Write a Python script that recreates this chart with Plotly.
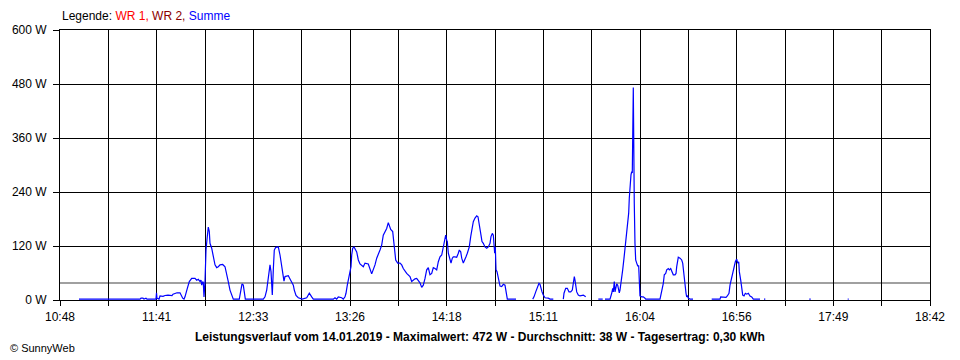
import pandas as pd
import plotly.graph_objects as go

DAY = "2019-01-14"
AXIS_START = "10:48"
AXIS_END = "18:42"
X_TICK_LABELS = ["10:48", "11:41", "12:33", "13:26", "14:18",
                 "15:11", "16:04", "16:56", "17:49", "18:42"]
Y_TICKS = [0, 120, 240, 360, 480, 600]
Y_TICK_LABELS = [f"{v} W" for v in Y_TICKS]
AVG_W = 38
TITLE = ("Leistungsverlauf vom 14.01.2019 - Maximalwert: 472 W - "
         "Durchschnitt: 38 W - Tagesertrag: 0,30 kWh")

# Summe (W) over time; None = no data (gap)
times = [
    "10:58:21", "11:31:35", "11:32:08", "11:33:13", "11:33:46", "11:34:51", "11:35:24", "11:40:18", "11:40:35", "11:40:51",
    "11:41:56", "11:42:29", "11:44:07", "11:45:13", "11:46:50", "11:47:56", "11:49:01", "11:49:34", "11:51:45", "11:53:23",
    "11:53:55", "11:54:51", "11:55:34", "11:56:06", "11:57:22", "11:58:27", "11:59:45", "12:01:33", "12:02:29", "12:03:21",
    "12:04:17", "12:04:49", "12:05:12", "12:05:45", "12:06:04", "12:06:27", "12:07:00", "12:07:33", "12:08:15", "12:08:48",
    "12:09:21", "12:09:43", "12:10:39", "12:11:31", "12:12:27", "12:13:22", "12:14:15", "12:15:10", "12:16:38", "12:17:54",
    "12:18:49", "12:19:41", "12:20:37", "12:22:05", "12:22:25", "12:25:41", "12:26:27", "12:27:10", "12:27:52", "12:28:25",
    "12:28:58", "12:38:46", "12:39:41", "12:40:37", "12:41:29", "12:42:25", "12:42:58", "12:43:20", "12:43:40", "12:44:13",
    "12:44:45", "12:45:31", "12:46:56", "12:47:52", "12:48:47", "12:49:20", "12:50:02", "12:50:35", "12:52:23", "12:53:41",
    "12:55:07", "12:55:39", "12:56:35", "12:57:50", "13:00:01", "13:02:25", "13:03:50", "13:05:08", "13:06:01", "13:16:54",
    "13:17:50", "13:18:45", "13:19:38", "13:21:29", "13:22:21", "13:23:17", "13:23:49", "13:24:32", "13:25:17", "13:26:00",
    "13:26:33", "13:26:56", "13:27:28", "13:28:11", "13:28:53", "13:29:39", "13:30:32", "13:31:27", "13:33:15", "13:34:10",
    "13:35:58", "13:36:54", "13:37:49", "13:39:37", "13:40:33", "13:42:21", "13:43:16", "13:44:08", "13:45:59", "13:46:52",
    "13:48:11", "13:49:16", "13:49:35", "13:50:08", "13:50:54", "13:51:59", "13:53:14", "13:54:10", "13:55:02", "13:56:53",
    "13:58:41", "13:59:37", "14:00:29", "14:01:25", "14:02:20", "14:03:13", "14:04:08", "14:05:04", "14:05:56", "14:06:52",
    "14:07:47", "14:08:40", "14:09:35", "14:10:31", "14:11:23", "14:12:19", "14:13:14", "14:14:07", "14:15:02", "14:15:58",
    "14:16:50", "14:17:35", "14:18:08", "14:18:41", "14:19:01", "14:19:34", "14:20:06", "14:20:29", "14:21:02", "14:21:44",
    "14:22:17", "14:23:13", "14:24:08", "14:25:01", "14:25:33", "14:26:19", "14:26:52", "14:27:44", "14:28:17", "14:29:12",
    "14:29:55", "14:30:28", "14:31:00", "14:31:46", "14:32:28", "14:33:11", "14:34:06", "14:35:02", "14:35:44", "14:36:17",
    "14:36:50", "14:37:22", "14:37:55", "14:38:38", "14:39:33", "14:40:29", "14:41:21", "14:42:17", "14:42:49", "14:43:32",
    "14:44:05", "14:44:28", "14:44:50", "14:45:10", "14:45:33", "14:46:06", "14:46:38", "14:47:11", "14:47:44", "14:48:40",
    "14:49:32", "14:50:27", "14:51:00", "14:51:43", "14:56:27", "15:00:00", "15:05:33", "15:06:15", "15:07:11", "15:08:16",
    "15:08:58", "15:09:31", "15:10:04", "15:10:37", "15:11:19", "15:12:14", "15:14:02", "15:14:58", "15:16:46", "15:19:00",
    "15:22:13", "15:22:36", "15:23:31", "15:24:24", "15:25:19", "15:26:15", "15:27:07", "15:27:40", "15:28:13", "15:28:35",
    "15:28:58", "15:29:31", "15:30:23", "15:31:19", "15:33:07", "15:34:02", "15:34:25", "15:38:00", "15:41:17", "15:43:41",
    "15:44:20", "15:44:56", "15:47:40", "15:48:35", "15:49:08", "15:49:28", "15:50:00", "15:50:23", "15:50:56", "15:51:19",
    "15:51:51", "15:52:11", "15:52:43", "15:53:06", "15:53:39", "15:54:02", "15:54:34", "15:55:17", "15:55:50", "15:56:22",
    "15:56:45", "15:57:18", "15:57:50", "15:58:10", "15:58:33", "15:59:05", "15:59:29", "15:59:48", "16:00:21", "16:00:28",
    "16:00:53", "16:01:16", "16:01:39", "16:02:12", "16:02:44", "16:03:17", "16:03:37", "16:03:59", "16:04:55", "16:05:47",
    "16:06:43", "16:07:06", "16:14:54", "16:15:26", "16:16:09", "16:16:42", "16:17:14", "16:18:00", "16:18:33", "16:19:25",
    "16:19:58", "16:20:44", "16:21:26", "16:22:09", "16:23:04", "16:23:37", "16:24:00", "16:24:32", "16:24:52", "16:25:48",
    "16:26:43", "16:27:16", "16:27:36", "16:28:08", "16:28:31", "16:29:04", "16:29:27", "16:29:59", "16:30:19", "16:31:15",
    "16:32:53", "16:38:00", "16:43:04", "16:47:35", "16:47:58", "16:49:23", "16:50:52", "16:51:34", "16:52:29", "16:53:02",
    "16:53:58", "16:54:31", "16:55:13", "16:55:56", "16:56:41", "16:57:14", "16:57:47", "16:58:07", "16:58:52", "16:59:25",
    "16:59:58", "17:00:40", "17:01:23", "17:02:08", "17:03:01", "17:03:56", "17:04:52", "17:05:44", "17:09:23", "17:10:30",
    "17:11:34", "17:12:16", "17:25:00", "17:36:14", "17:37:00", "17:47:00", "17:57:10", "17:57:42",
]
summe_w = [
    2, 2, 4, 4, 2, 4, 2, 2, 16, 4,
    2, 9, 8, 10, 11, 11, 10, 13, 16, 16,
    11, 4, 2, 7, 26, 41, 48, 48, 44, 46,
    41, 44, 33, 41, 39, 7, 41, 111, 141, 162,
    152, 126, 115, 96, 78, 72, 74, 78, 79, 74,
    59, 41, 22, 4, 2, 2, 18, 36, 33, 11,
    2, 2, 7, 22, 44, 78, 63, 44, 11, 67,
    111, 117, 118, 100, 78, 63, 42, 52, 54, 44,
    33, 22, 10, 5, 2, 5, 15, 7, 2, 2,
    5, 2, 7, 5, 2, 7, 15, 33, 48, 63,
    74, 100, 115, 118, 111, 107, 89, 80, 74, 82,
    80, 67, 58, 78, 93, 111, 122, 144, 159, 172,
    157, 152, 141, 118, 89, 82, 82, 78, 70, 59,
    52, 41, 44, 47, 48, 44, 38, 28, 33, 48,
    67, 72, 56, 59, 72, 70, 67, 85, 96, 100,
    118, 126, 144, 133, 130, 104, 96, 85, 82, 93,
    96, 96, 95, 104, 111, 107, 93, 82, 89, 96,
    104, 111, 118, 141, 159, 174, 182, 187, 185, 174,
    159, 144, 130, 126, 118, 115, 118, 126, 141, 148,
    144, 130, 104, 118, 67, 63, 52, 41, 31, 30,
    35, 33, 22, 2, 2, None, 2, 7, 18, 31,
    37, 35, 22, 18, 11, 5, 4, 2, 2, None,
    2, 15, 26, 26, 18, 18, 22, 33, 52, 44,
    30, 18, 11, 9, 11, 7, 7, None, 2, 2,
    None, 2, 2, 15, 26, 18, 41, 18, 26, 36,
    33, 22, 16, 22, 37, 52, 67, 93, 115, 133,
    152, 170, 193, 226, 259, 278, 285, 282, 472, 278,
    215, 126, 89, 82, 76, 76, 44, 9, 7, 7,
    4, 2, 2, 11, 26, 37, 56, 59, 67, 70,
    67, 70, 63, 56, 56, 59, 74, 85, 95, 93,
    89, 82, 67, 56, 37, 15, 7, 9, 4, 2,
    2, None, 2, 2, 7, 7, 6, 9, 15, 33,
    52, 63, 74, 85, 91, 82, 85, 63, 44, 26,
    11, 9, 15, 13, 15, 9, 7, 2, 2, None,
    2, 2, None, 2, 2, None, 2, 2,
]
assert len(times) == len(summe_w)

x_vals = pd.to_datetime([f"{DAY} {t}" for t in times])
x0 = pd.Timestamp(f"{DAY} {AXIS_START}")
x1 = pd.Timestamp(f"{DAY} {AXIS_END}")
n_lab = len(X_TICK_LABELS)
n_grid = 2 * (n_lab - 1) + 1
grid_pos = [x0 + (x1 - x0) * k / (n_grid - 1) for k in range(n_grid)]
grid_text = [X_TICK_LABELS[k // 2] if k % 2 == 0 else "" for k in range(n_grid)]

FONT = "Liberation Sans, Arial, sans-serif"

fig = go.Figure()
fig.add_trace(go.Scatter(
    x=x_vals, y=summe_w, mode="lines",
    line=dict(color="#0000FF", width=1.2),
    connectgaps=False, hoverinfo="skip", showlegend=False,
))

fig.add_shape(type="line", xref="paper", x0=0, x1=1, yref="y",
              y0=AVG_W, y1=AVG_W, line=dict(color="#808080", width=1.5),
              layer="below")

# page body adds an 8px offset; compensate so plot spans x 60-930, y 30-300
fig.update_layout(
    width=952, height=352,
    margin=dict(l=52, r=30, t=22, b=60),
    paper_bgcolor="white", plot_bgcolor="white",
    font=dict(family=FONT, size=11, color="black"),
    showlegend=False,
    xaxis=dict(
        type="date", range=[x0, x1], automargin=False,
        tickmode="array", tickvals=grid_pos, ticktext=grid_text,
        showgrid=True, gridcolor="black", gridwidth=1,
        showline=True, linecolor="black", linewidth=1, mirror=True,
        ticks="outside", ticklen=5, tickcolor="black", tickwidth=1,
        tickfont=dict(size=12), zeroline=False,
        ticklabelstandoff=1,
    ),
    yaxis=dict(
        range=[0, 600], automargin=False,
        tickmode="array", tickvals=Y_TICKS, ticktext=Y_TICK_LABELS,
        showgrid=True, gridcolor="black", gridwidth=1,
        showline=True, linecolor="black", linewidth=1, mirror=True,
        ticks="outside", ticklen=6, tickcolor="black", tickwidth=1,
        tickfont=dict(size=12), zeroline=False,
        ticklabelstandoff=4,
    ),
    annotations=[
        dict(xref="paper", yref="paper", x=0, y=1 + 14 / 270,
             xanchor="left", yanchor="middle", showarrow=False,
             text=("Legende: <span style='color:#FF0000'>WR 1,</span> "
                   "<span style='color:#8B0000'>WR 2,</span> "
                   "<span style='color:#0000FF'>Summe</span>"),
             font=dict(size=12)),
        dict(xref="paper", yref="paper", x=(480 - 60) / 870, y=-37 / 270,
             xanchor="center", yanchor="middle", showarrow=False,
             text=f"<b>{TITLE}</b>", font=dict(size=12)),
        dict(xref="paper", yref="paper", x=-52 / 870, y=-48 / 270,
             xanchor="left", yanchor="middle", showarrow=False,
             text="© SunnyWeb", font=dict(size=11)),
    ],
)

fig.write_html("out.html")
